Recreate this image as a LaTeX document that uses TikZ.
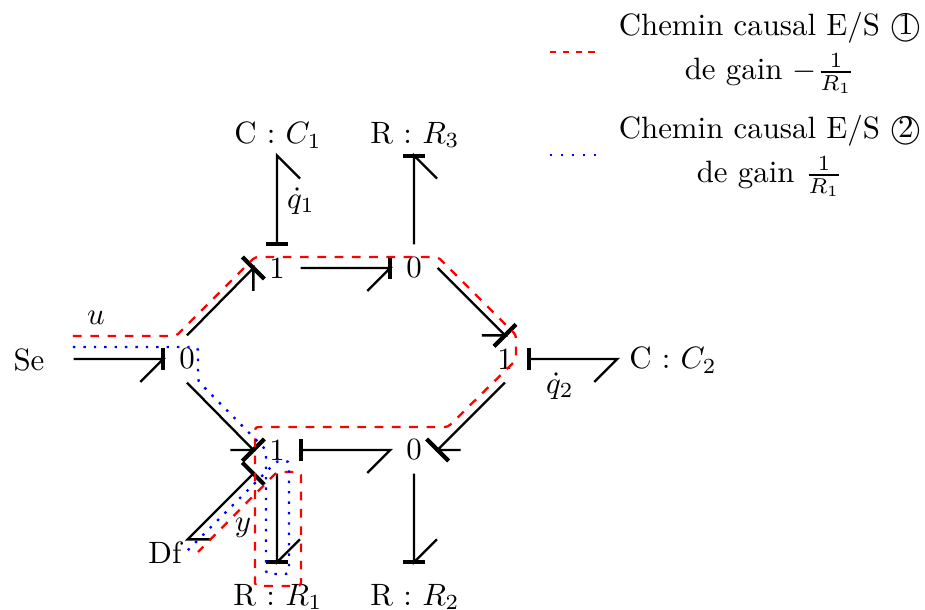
\documentclass[tikz,border=0pt]{standalone}
\DeclareFontShape{OML}{cmm}{m}{it}{<-6>cmmi5 <6-8>cmmi7 <8->cmmi10}{}
\DeclareFontShape{OT1}{cmr}{m}{n}{<-6>cmr5 <6-8>cmr7 <8->cmr10}{}
\DeclareFontShape{OMS}{cmsy}{m}{n}{<-6>cmsy5 <6-8>cmsy7 <8->cmsy10}{}
\begin{document}
\begin{tikzpicture}[x=0.3127pt,y=-0.3127pt,
  every node/.append style={font=\fontsize{9.65}{11.6}\selectfont},
  jct/.style={rectangle,inner sep=0pt,minimum size=14.38pt},
  bond/.style={draw=black,line width=0.72pt},
  cbar/.style={draw=black,line width=1.3pt},
  redpath/.style={draw=red,line width=0.72pt,dash pattern=on 2.7pt off 2.7pt,rounded corners=1pt},
  bluepath/.style={draw=blue,line width=0.75pt,dash pattern=on 0.75pt off 2.5pt,rounded corners=1pt},
  redkey/.style={draw=red,line width=0.72pt,dash pattern=on 2pt off 2pt},
  bluekey/.style={draw=blue,line width=0.75pt,dash pattern=on 0.75pt off 2.7pt},
  lab/.style={inner sep=0pt}]
\useasboundingbox (0,0) rectangle (925,610);
% junctions
\node[jct] (J0a) at (187,359) {0};
\node[jct] (J1a) at (277,268) {1};
\node[jct] (J0b) at (414,268) {0};
\node[jct] (J1b) at (505,359) {1};
\node[jct] (J0c) at (414,450) {0};
\node[jct] (J1c) at (277,450) {1};
% elements
\node[rectangle,inner sep=0pt,minimum width=27.5pt,text height=7.2pt,text depth=0pt] (Se) at (29,359) {Se};
\node[rectangle,inner sep=0pt,minimum width=13.8pt,minimum height=8.1pt] (Df) at (165,553) {Df};
\node[rectangle,inner sep=0pt,minimum height=12.5pt] (C1) at (278,135) {C : $C_1$};
\node[rectangle,inner sep=0pt,minimum height=12.5pt] (R3) at (415,135) {R : $R_3$};
\node[rectangle,inner sep=0pt,minimum width=34.4pt,text height=7.4pt,text depth=1.5pt] (C2) at (673,359) {C : $C_2$};
\node[rectangle,inner sep=0pt,minimum height=21.3pt] (R1) at (278,597) {R : $R_1$};
\node[rectangle,inner sep=0pt,minimum height=21.3pt] (R2) at (415,597) {R : $R_2$};
% labels
\node[lab] (lu) at (96,318) {$u$};
\node[lab] (lq1) at (301,201) {$\dot q_1$};
\node[lab] (lq2) at (560,386) {$\dot q_2$};
\node[lab] (ly) at (243,528) {$y$};
% bonds with half arrows
\draw[bond] (Se.east) -- (J0a.west) -- ++(-23,23);
\draw[bond] (J0a.north) -- (J1a.west) -- ++(0,23);
\draw[bond] (J1a.north) -- (J1a.north |- C1.south) -- ++(23,23);
\draw[bond] (J1a.east) -- (J0b.west) -- ++(-23,23);
\draw[bond] (J0b.north) -- (J0b.north |- R3.south) -- ++(23,23);
\draw[bond] (J0b.east) -- (J1b.north) -- ++(-23,0);
\draw[bond] (J1b.east) -- (C2.west) -- ++(-23,23);
\draw[bond] (J1b.south) -- (J0c.east) -- ++(23,0);
\draw[bond] (J1c.east) -- (J0c.west) -- ++(-23,23);
\draw[bond] (J0c.south) -- (J0c.south |- R2.north) -- ++(23,-23);
\draw[bond] (J0a.south) -- (J1c.west) -- ++(-23,0);
\draw[bond] (J1c.south) -- (J1c.south |- R1.north) -- ++(23,-23);
\draw[bond] (J1c.south west) -- (Df.north east) -- ++(23,0);
% causal strokes
\draw[cbar] (J0a.west) ++(0,-11) -- ++(0,22);
\draw[cbar] (J1a.west) ++(-11,-11) -- ++(22,22);
\draw[cbar] (J1a.north) ++(-11,0) -- ++(22,0);
\draw[cbar] (J0b.west) ++(0,-11) -- ++(0,22);
\draw[cbar] (J0b.north |- R3.south) ++(-11,0) -- ++(22,0);
\draw[cbar] (J1b.north) ++(-11,11) -- ++(22,-22);
\draw[cbar] (J1b.east) ++(0,-11) -- ++(0,22);
\draw[cbar] (J0c.east) ++(-11,-11) -- ++(22,22);
\draw[cbar] (J1c.east) ++(0,-11) -- ++(0,22);
\draw[cbar] (J0c.south |- R2.north) ++(-11,0) -- ++(22,0);
\draw[cbar] (J1c.west) ++(-11,11) -- ++(22,-22);
\draw[cbar] (J1c.south west) ++(-11,-11) -- ++(22,22);
\draw[cbar] (J1c.south |- R1.north) ++(-11,0) -- ++(22,0);
% causal paths
\coordinate (rs) at (73,336);
\coordinate (re) at (198,552);
\coordinate (bs) at (73,347);
\coordinate (be) at (187,551);
\draw[redpath] (rs) -- (176,336) -- (255,257) -- (438,257) -- (516,335) -- (516,360) -- (448,427) -- (255,427) -- (255,586) -- (301,586) -- (301,472) -- (277,472) -- (re);
\draw[bluepath] (bs) -- (198,347) -- (198,381) -- (266,450) -- (266,574) -- (289,574) -- (289,461) -- (277,461) -- (be);
% legend
\coordinate (k1a) at (550,52);
\coordinate (k1b) at (596,52);
\coordinate (k2a) at (550,155);
\coordinate (k2b) at (596,155);
\draw[redkey] (k1a) -- (k1b);
\draw[bluekey] (k2a) -- (k2b);
\node[align=center,inner sep=0pt] (t1) at (770,53) {Chemin causal E/S \textcircled{1}\\[2.2pt]de gain $-\frac{1}{R_1}$};
\node[align=center,inner sep=0pt] (t2) at (770,156) {Chemin causal E/S \textcircled{2}\\[2.2pt]de gain $\frac{1}{R_1}$};
\end{tikzpicture}
\end{document}
